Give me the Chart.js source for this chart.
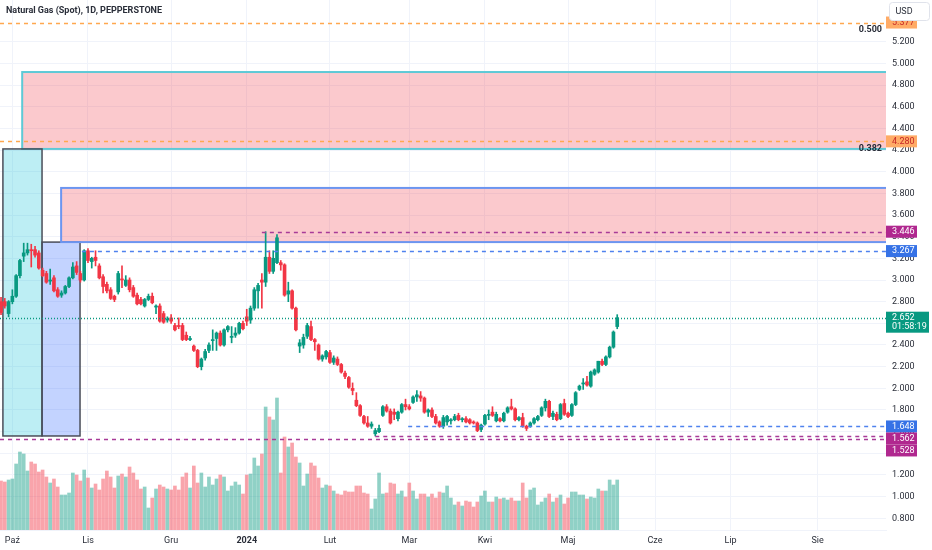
<!DOCTYPE html>
<html>
<head>
<meta charset="utf-8">
<script src="https://cdn.jsdelivr.net/npm/chart.js@4.4.1/dist/chart.umd.min.js"></script>
<style>
  html, body { margin: 0; padding: 0; background: #fff; }
  canvas { display: block; }
</style>
</head>
<body>
<canvas id="gasChart" width="932" height="550"></canvas>
<script>
// daily candles, NG spot (Pepperstone)
const opens = [2.80,2.80,2.69,2.80,2.85,3.04,3.22,3.25,3.28,3.28,3.25,3.09,3.06,2.99,3.02,2.91,2.86,2.88,2.94,3.02,
  3.13,3.06,3.00,3.27,3.17,3.21,3.13,3.03,2.96,2.91,2.85,2.89,3.01,2.95,3.00,2.93,2.86,2.82,2.76,2.82,
  2.85,2.75,2.76,2.69,2.63,2.65,2.58,2.58,2.58,2.49,2.45,2.39,2.35,2.20,2.28,2.35,2.44,2.46,2.51,2.40,
  2.54,2.47,2.49,2.51,2.60,2.66,2.63,2.74,2.90,3.00,2.98,3.21,3.08,3.16,3.16,3.14,2.87,2.90,2.74,2.39,
  2.40,2.48,2.57,2.45,2.40,2.27,2.29,2.33,2.24,2.27,2.22,2.14,2.10,2.00,1.89,1.84,1.74,1.68,1.65,1.58,
  1.60,1.75,1.83,1.79,1.78,1.72,1.78,1.85,1.83,1.87,1.92,1.93,1.91,1.78,1.80,1.74,1.69,1.65,1.69,1.70,
  1.71,1.75,1.71,1.72,1.71,1.69,1.68,1.62,1.67,1.75,1.78,1.70,1.72,1.70,1.78,1.83,1.81,1.71,1.73,1.65,
  1.65,1.68,1.71,1.75,1.82,1.88,1.74,1.76,1.72,1.86,1.77,1.75,1.85,1.99,2.04,2.06,2.02,2.13,2.15,2.25,
  2.22,2.29,2.38,2.57];
const highs = [2.84,2.83,2.81,2.91,3.05,3.19,3.34,3.34,3.33,3.31,3.27,3.11,3.08,3.10,3.04,2.93,2.90,2.95,3.03,3.16,
  3.17,3.08,3.28,3.29,3.21,3.27,3.15,3.05,2.98,2.93,2.86,3.08,3.13,3.04,3.02,2.95,2.88,2.84,2.83,2.87,
  2.88,2.77,2.78,2.71,2.66,2.68,2.60,2.65,2.60,2.52,2.48,2.40,2.36,2.28,2.36,2.42,2.54,2.52,2.53,2.55,
  2.58,2.57,2.56,2.61,2.62,2.73,2.76,2.93,2.97,3.06,3.446,3.27,3.27,3.42,3.18,3.15,2.98,2.91,2.75,2.45,
  2.50,2.60,2.62,2.46,2.41,2.31,2.35,2.35,2.30,2.29,2.23,2.16,2.11,2.05,1.96,1.85,1.75,1.74,1.69,1.63,
  1.66,1.84,1.85,1.81,1.81,1.79,1.86,1.90,1.85,1.93,1.98,1.97,1.92,1.81,1.82,1.76,1.70,1.75,1.75,1.72,
  1.76,1.77,1.73,1.74,1.72,1.70,1.69,1.67,1.76,1.80,1.83,1.78,1.73,1.78,1.83,1.90,1.82,1.74,1.77,1.66,
  1.69,1.73,1.75,1.83,1.90,1.89,1.79,1.78,1.86,1.90,1.78,1.86,1.97,2.03,2.09,2.11,2.16,2.18,2.25,2.27,
  2.30,2.39,2.53,2.68];
const lows = [2.68,2.74,2.66,2.78,2.84,3.02,3.17,3.23,3.12,3.21,3.10,3.03,2.97,2.96,2.89,2.84,2.84,2.87,2.93,3.01,
  3.05,2.98,2.99,3.16,3.11,3.13,3.01,2.88,2.88,2.82,2.80,2.87,2.93,2.94,2.89,2.84,2.77,2.77,2.75,2.81,
  2.78,2.69,2.61,2.60,2.61,2.60,2.53,2.55,2.44,2.44,2.44,2.34,2.19,2.17,2.26,2.33,2.35,2.35,2.39,2.39,
  2.52,2.42,2.47,2.50,2.54,2.58,2.60,2.72,2.74,2.74,2.94,3.06,3.06,3.15,3.09,2.85,2.80,2.73,2.53,2.33,
  2.37,2.46,2.44,2.35,2.26,2.25,2.27,2.23,2.22,2.21,2.14,2.09,2.00,1.94,1.83,1.74,1.67,1.64,1.63,1.56,
  1.59,1.74,1.78,1.67,1.71,1.70,1.77,1.80,1.80,1.86,1.88,1.88,1.77,1.74,1.73,1.67,1.64,1.63,1.66,1.67,
  1.70,1.70,1.69,1.68,1.67,1.67,1.60,1.60,1.66,1.71,1.74,1.69,1.69,1.69,1.77,1.80,1.70,1.70,1.64,1.61,
  1.64,1.67,1.70,1.74,1.79,1.73,1.71,1.70,1.71,1.75,1.73,1.74,1.84,1.98,1.99,2.02,2.01,2.12,2.14,2.21,
  2.21,2.28,2.37,2.55];
const closes = [2.70,2.76,2.80,2.85,3.04,3.18,3.25,3.28,3.27,3.23,3.11,3.04,2.98,3.00,2.90,2.85,2.88,2.94,3.02,3.12,
  3.07,3.00,3.27,3.18,3.20,3.18,3.02,2.94,2.90,2.83,2.82,3.06,3.00,3.00,2.91,2.85,2.78,2.78,2.82,2.85,
  2.79,2.76,2.62,2.61,2.64,2.62,2.54,2.57,2.45,2.45,2.46,2.35,2.20,2.27,2.34,2.40,2.45,2.51,2.40,2.54,
  2.57,2.48,2.51,2.60,2.55,2.62,2.74,2.91,2.95,2.98,3.21,3.08,3.20,3.39,3.14,2.86,2.90,2.74,2.54,2.42,
  2.47,2.58,2.45,2.43,2.27,2.30,2.34,2.24,2.28,2.22,2.15,2.11,2.01,1.98,1.84,1.75,1.68,1.65,1.67,1.61,
  1.63,1.83,1.79,1.68,1.76,1.78,1.85,1.83,1.81,1.92,1.94,1.91,1.78,1.80,1.74,1.68,1.65,1.73,1.74,1.71,
  1.74,1.71,1.72,1.69,1.68,1.68,1.61,1.66,1.75,1.76,1.75,1.76,1.70,1.77,1.82,1.81,1.71,1.73,1.65,1.63,
  1.68,1.72,1.74,1.82,1.88,1.74,1.77,1.71,1.85,1.76,1.74,1.85,1.96,2.02,2.05,2.03,2.15,2.17,2.25,2.22,
  2.29,2.38,2.52,2.652];
const volumes = [49,48,50,51,66,78,76,59,68,66,58,60,53,47,51,43,35,35,37,57,
  55,49,60,52,42,46,40,51,59,53,42,54,56,53,63,57,50,41,43,22,
  32,41,45,43,41,40,44,40,53,57,42,64,47,57,43,53,45,51,55,53,
  39,44,48,45,36,55,56,72,64,76,123,113,110,132,57,93,83,87,73,67,
  44,56,67,64,52,42,45,44,39,36,35,39,38,38,44,44,37,36,21,31,
  57,36,37,47,46,36,39,33,47,39,31,36,36,33,36,32,38,37,44,32,
  25,28,24,29,28,23,28,34,39,28,28,33,31,32,30,32,29,29,47,32,
  40,42,25,28,32,36,28,32,35,26,32,38,38,35,35,31,33,32,41,39,
  39,50,45,50];

// time axis: bar index of each month label
const monthTicks = [3, 23, 45, 65, 87, 108, 128, 150, 173, 193, 216];
const monthLabels = ['Paź', 'Lis', 'Gru', '2024', 'Lut', 'Mar', 'Kwi', 'Maj', 'Cze', 'Lip', 'Sie'];
const priceTicks = [0.8, 1.0, 1.2, 1.4, 1.6, 1.8, 2.0, 2.2, 2.4, 2.6, 2.8, 3.0, 3.2, 3.4, 3.6, 3.8, 4.0, 4.2, 4.4, 4.6, 4.8, 5.0, 5.2];

// drawn rectangles (bar index from/to, price low/high); null = runs to the right edge
const zoneFrom = [5.6, 0.5, 10.85, 15.9];
const zoneTo = [null, 10.85, 20.9, null];
const zoneLow = [4.21, 1.56, 1.56, 3.35];
const zoneHigh = [4.92, 4.21, 3.35, 3.85];

// horizontal levels and where they start (bar index)
const levelPrices = [5.377, 4.280, 3.446, 3.267, 2.652, 1.648, 1.562, 1.528];
const levelFrom = [-1, -1, 69, 21.4, -1, 107.7, 99, -1];
const fibRatios = ['0.500', '0.382'];
const countdown = '01:58:19';

const UP = '#089981';
const DOWN = '#f23645';
const FONT = 'Roboto, "Liberation Sans", Arial, sans-serif';

const zoneStyles = [
    { fill: 'rgba(242,54,69,0.27)', stroke: '#5ec9d6', width: 2 },
    { fill: 'rgba(0,188,212,0.26)', stroke: '#4a4e59', width: 1.5 },
    { fill: 'rgba(41,98,255,0.28)', stroke: '#4a4e59', width: 1.5 },
    { fill: 'rgba(242,54,69,0.27)', stroke: '#6c95f0', width: 2 }
];
const levelStyles = [
    { line: '#ffa84f', dash: [4, 4], bg: '#ffab66', text: '#c62828' },
    { line: '#ffa84f', dash: [4, 4], bg: '#ffab66', text: '#c62828' },
    { line: '#a83b98', dash: [4, 4], bg: '#b0288f', text: '#ffffff' },
    { line: '#4f82ee', dash: [4, 4], bg: '#3672e6', text: '#ffffff' },
    { line: '#089981', dash: [1, 2], bg: '#089981', text: '#ffffff' },
    { line: '#4f82ee', dash: [4, 4], bg: '#3672e6', text: '#ffffff' },
    { line: '#a83b98', dash: [4, 4], bg: '#b0288f', text: '#ffffff' },
    { line: '#a83b98', dash: [4, 4], bg: '#b0288f', text: '#ffffff' }
];

const candleColors = opens.map((o, i) => closes[i] >= o ? UP : DOWN);
const volumeColors = opens.map((o, i) => closes[i] >= o ? 'rgba(8,153,129,0.45)' : 'rgba(242,54,69,0.45)');

function clipToArea(ctx, a) {
    ctx.beginPath();
    ctx.rect(a.left, a.top, a.right - a.left, a.bottom - a.top);
    ctx.clip();
}

const zonesPlugin = {
    id: 'zones',
    beforeDatasetsDraw(chart) {
        const { ctx, chartArea, scales } = chart;
        ctx.save();
        clipToArea(ctx, chartArea);
        zoneFrom.forEach((from, i) => {
            const x0 = scales.x.getPixelForValue(from);
            const x1 = zoneTo[i] === null ? chartArea.right + 10 : scales.x.getPixelForValue(zoneTo[i]);
            const y0 = scales.y.getPixelForValue(zoneHigh[i]);
            const y1 = scales.y.getPixelForValue(zoneLow[i]);
            const st = zoneStyles[i];
            ctx.fillStyle = st.fill;
            ctx.fillRect(x0, y0, x1 - x0, y1 - y0);
            ctx.strokeStyle = st.stroke;
            ctx.lineWidth = st.width;
            ctx.strokeRect(x0, y0, x1 - x0, y1 - y0);
        });
        ctx.restore();
    }
};

const levelsPlugin = {
    id: 'levels',
    afterDatasetsDraw(chart) {
        const { ctx, chartArea, scales } = chart;
        ctx.save();
        clipToArea(ctx, chartArea);
        levelPrices.forEach((p, i) => {
            const st = levelStyles[i];
            const y = Math.round(scales.y.getPixelForValue(p)) + 0.5;
            const x0 = levelFrom[i] < 0 ? chartArea.left : scales.x.getPixelForValue(levelFrom[i]);
            ctx.strokeStyle = st.line;
            ctx.lineWidth = 1.5;
            ctx.setLineDash(st.dash);
            ctx.beginPath();
            ctx.moveTo(x0, y);
            ctx.lineTo(chartArea.right, y);
            ctx.stroke();
        });
        ctx.setLineDash([]);
        // fib ratio texts sit just under their level
        ctx.font = 'bold 9px ' + FONT;
        ctx.fillStyle = '#2a2e39';
        ctx.textAlign = 'right';
        ctx.textBaseline = 'middle';
        fibRatios.forEach((r, i) => {
            ctx.fillText(r, chartArea.right - 4, scales.y.getPixelForValue(levelPrices[i]) + 7);
        });
        ctx.restore();
    },
    afterDraw(chart) {
        const { ctx, chartArea, scales } = chart;
        ctx.save();
        // price labels on the axis, pushed apart when they collide
        const items = levelPrices.map((p, i) => ({
            i, p, y: scales.y.getPixelForValue(p), h: i === 4 ? 21 : 12
        })).sort((a, b) => a.y - b.y);
        let lastBottom = -Infinity;
        items.forEach(it => {
            let top = it.i === 4 ? it.y - 6 : it.y - it.h / 2;
            if (top < lastBottom) top = lastBottom;
            lastBottom = top + it.h;
            const st = levelStyles[it.i];
            const w = it.i === 4 ? 43 : 31;
            ctx.fillStyle = st.bg;
            ctx.fillRect(chartArea.right, top, w, it.h);
            ctx.fillStyle = st.text;
            ctx.font = '9px ' + FONT;
            ctx.textAlign = 'left';
            ctx.textBaseline = 'middle';
            ctx.fillText(it.p.toFixed(3), chartArea.right + 6, top + 6);
            if (it.i === 4) ctx.fillText(countdown, chartArea.right + 6, top + 15.5);
        });

        // currency button
        ctx.fillStyle = '#ffffff';
        ctx.strokeStyle = '#e0e3eb';
        ctx.lineWidth = 1;
        ctx.beginPath();
        ctx.roundRect(889.5, 2.5, 40, 18, 3);
        ctx.fill();
        ctx.stroke();
        ctx.fillStyle = '#2a2e39';
        ctx.font = '9px ' + FONT;
        ctx.textAlign = 'center';
        ctx.textBaseline = 'middle';
        ctx.fillText('USD', 904, 12);

        // title
        ctx.font = 'bold 9px ' + FONT;
        ctx.textAlign = 'left';
        ctx.fillStyle = '#2a2e39';
        ctx.fillText('Natural Gas (Spot), 1D, PEPPERSTONE', 6, 11);
        ctx.restore();
    }
};

const idx = opens.map((_, i) => i);

// no extra room for overhanging tick labels: the pane runs edge to edge
function noPadding(axis) {
    axis.paddingTop = 0;
    axis.paddingBottom = 0;
    axis.paddingLeft = 0;
    axis.paddingRight = 0;
}

new Chart(document.getElementById('gasChart'), {
    type: 'bar',
    data: {
        datasets: [
            {
                label: 'Volume',
                yAxisID: 'yv',
                data: idx.map(i => ({ x: i, y: volumes[i] })),
                backgroundColor: volumeColors,
                barThickness: 3,
                grouped: false,
                order: 3
            },
            {
                label: 'Wick',
                yAxisID: 'y',
                data: idx.map(i => ({ x: i, y: [lows[i], highs[i]] })),
                backgroundColor: candleColors,
                barThickness: 1,
                grouped: false,
                order: 2
            },
            {
                label: 'Body',
                yAxisID: 'y',
                data: idx.map(i => ({ x: i, y: [opens[i], closes[i]] })),
                backgroundColor: candleColors,
                barThickness: 3,
                grouped: false,
                order: 1
            }
        ]
    },
    options: {
        responsive: false,
        animation: false,
        layout: { padding: 0 },
        plugins: {
            legend: { display: false },
            tooltip: { enabled: false }
        },
        scales: {
            x: {
                type: 'linear',
                min: -0.27,
                max: 234.1,
                offset: false,
                grid: { color: '#f0f3fa', drawTicks: false, offset: false },
                border: { display: true, color: '#f0f3fa' },
                afterBuildTicks: axis => { axis.ticks = monthTicks.map(v => ({ value: v })); },
                afterFit: axis => { axis.height = 20; noPadding(axis); },
                ticks: {
                    autoSkip: false,
                    maxRotation: 0,
                    padding: 5,
                    color: '#2a2e39',
                    font: ctx => ({
                        family: FONT,
                        size: 9,
                        weight: monthLabels[ctx.index] === '2024' ? 'bold' : 'normal'
                    }),
                    callback: (value, index) => monthLabels[index]
                }
            },
            y: {
                type: 'linear',
                position: 'right',
                min: 0.692,
                max: 5.585,
                grid: { color: '#f0f3fa', drawTicks: false },
                border: { display: false },
                afterBuildTicks: axis => { axis.ticks = priceTicks.map(v => ({ value: v })); },
                afterFit: axis => { axis.width = 46; noPadding(axis); },
                ticks: {
                    padding: 6,
                    color: '#2a2e39',
                    font: { family: FONT, size: 9 },
                    callback: v => Number(v).toFixed(3)
                }
            },
            yv: {
                type: 'linear',
                display: false,
                min: 0,
                max: 530
            }
        }
    },
    plugins: [zonesPlugin, levelsPlugin]
});
</script>
</body>
</html>
